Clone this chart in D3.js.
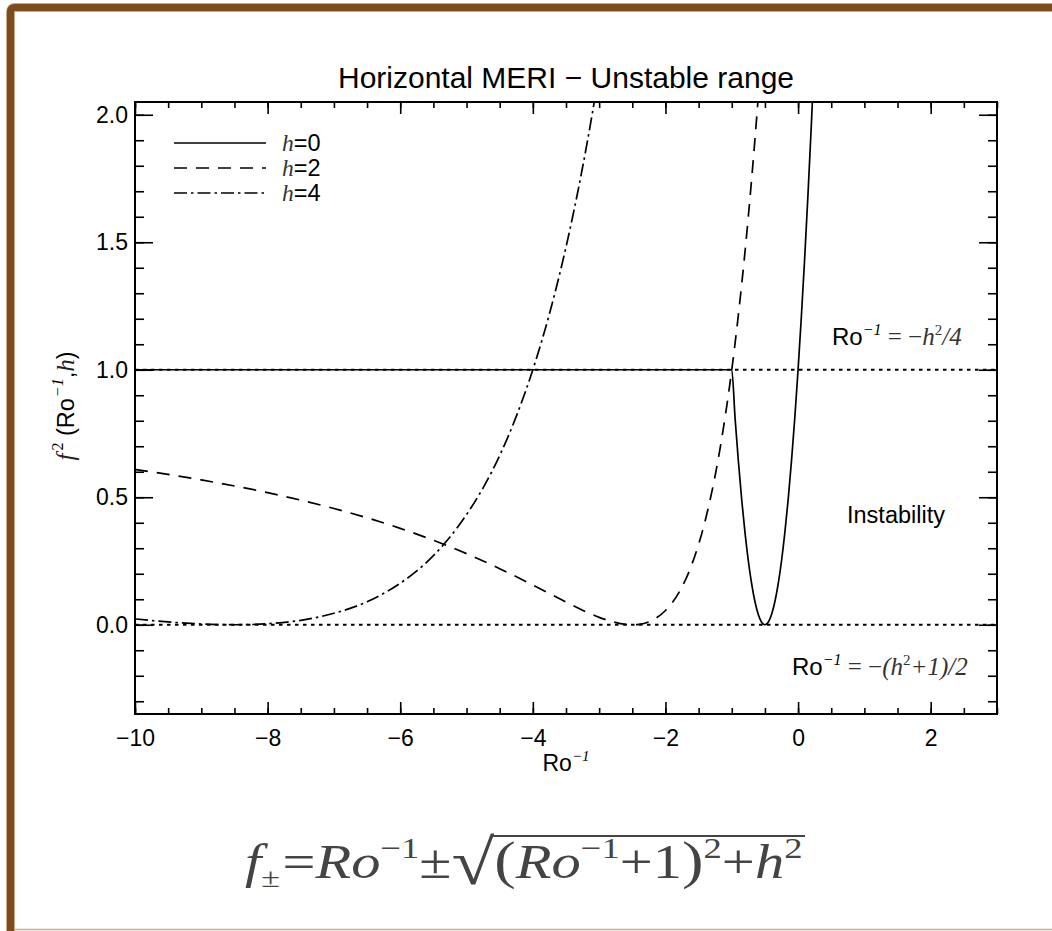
<!DOCTYPE html>
<html>
<head>
<meta charset="utf-8">
<script src="https://cdn.jsdelivr.net/npm/d3@7"></script>
<style>
  body { margin: 0; background: #fff; }
  svg { display: block; }
  .sans { font-family: "Liberation Sans", Arial, sans-serif; }
  .serif { font-family: "Liberation Serif", "Times New Roman", serif; }
</style>
</head>
<body>
<svg width="1052" height="931"></svg>
<script>
// f^2(Ro^-1, h) curves
var h0Ro = [-10, -5, -1, -0.95, -0.9, -0.85, -0.8, -0.75, -0.7, -0.65, -0.6, -0.55, -0.5,
  -0.45, -0.4, -0.35, -0.3, -0.25, -0.2, -0.15, -0.1, -0.05, 0, 0.05, 0.1, 0.15, 0.2, 0.25];
var h0F2 = [1, 1, 1, 0.81, 0.64, 0.49, 0.36, 0.25, 0.16, 0.09, 0.04, 0.01, 0,
  0.01, 0.04, 0.09, 0.16, 0.25, 0.36, 0.49, 0.64, 0.81, 1, 1.21, 1.44, 1.69, 1.96, 2.25];

var h2Ro = [-10, -9, -8, -7, -6, -5, -4.5, -4, -3.5, -3.25, -3, -2.8, -2.6, -2.5, -2.4, -2.2,
  -2, -1.8, -1.6, -1.4, -1.2, -1.1, -1, -0.9, -0.8, -0.7, -0.6, -0.5];
var h2F2 = [0.609, 0.568, 0.518, 0.456, 0.378, 0.279, 0.220, 0.156, 0.089, 0.057, 0.029, 0.012, 0.0015, 0, 0.0017, 0.0175,
  0.056, 0.125, 0.238, 0.409, 0.656, 0.815, 1, 1.216, 1.464, 1.749, 2.072, 2.439];

var h4Ro = [-10, -9.5, -9, -8.75, -8.5, -8.25, -8, -7.5, -7, -6.5, -6, -5.75, -5.5, -5.25, -5,
  -4.75, -4.5, -4.25, -4, -3.75, -3.5, -3.25, -3.1, -3];
var h4F2 = [0.023, 0.011, 0.003, 0.0008, 0, 0.0009, 0.004, 0.0175, 0.045, 0.090, 0.163, 0.211, 0.271, 0.344, 0.432,
  0.537, 0.664, 0.817, 1, 1.219, 1.481, 1.794, 2.01, 2.167];

var xMajor = [-10, -8, -6, -4, -2, 0, 2];
var yMajor = [0, 0.5, 1, 1.5, 2];
var refLines = [1, 0];

var series = [
  {name: '0', ro: h0Ro, f2: h0F2, dash: null},
  {name: '2', ro: h2Ro, f2: h2F2, dash: '13,9'},
  {name: '4', ro: h4Ro, f2: h4F2, dash: '13,4,2.5,4'}
];

var svg = d3.select('svg');

// brown frame
svg.append('path')
  .attr('d', 'M10.5,940 L10.5,12 Q10.5,7.5 15,7.5 L1060,7.5')
  .attr('fill', 'none')
  .attr('stroke', '#c9ab8c')
  .attr('stroke-width', 9);
svg.append('path')
  .attr('d', 'M10.5,940 L10.5,12 Q10.5,7.5 15,7.5 L1060,7.5')
  .attr('fill', 'none')
  .attr('stroke', '#7e4b1d')
  .attr('stroke-width', 7);
svg.append('line')
  .attr('x1', 14).attr('x2', 1052).attr('y1', 929.5).attr('y2', 929.5)
  .attr('stroke', '#c9ab8c').attr('stroke-width', 1.5);

var pL = 135, pR = 997, pT = 102, pB = 714;
var x = d3.scaleLinear().domain([-10, 3]).range([pL, pR]);
var y = d3.scaleLinear().domain([-0.35, 2.05]).range([pB, pT]);

svg.append('text')
  .attr('class', 'sans')
  .attr('x', (pL + pR) / 2)
  .attr('y', 88)
  .attr('text-anchor', 'middle')
  .style('font-size', '30px')
  .text('Horizontal MERI \u2212 Unstable range');

svg.append('defs').append('clipPath').attr('id', 'plotclip')
  .append('rect')
  .attr('x', pL).attr('y', pT)
  .attr('width', pR - pL).attr('height', pB - pT);

// ticks, IDL style (inward, on all four sides)
function styleAxis(g) {
  g.select('.domain').remove();
  g.selectAll('.tick line').attr('stroke', '#000').attr('stroke-width', 1.6);
  g.selectAll('.tick text')
    .attr('class', 'sans')
    .style('font-size', '23px')
    .attr('fill', '#000');
}

var xMinorVals = d3.range(-10, 3.001, 0.5);
var yMinorVals = d3.range(-0.3, 2.001, 0.1).map(function(v) { return Math.round(v * 10) / 10; });

svg.append('g').attr('transform', 'translate(0,' + pB + ')')
  .call(d3.axisBottom(x).tickValues(xMinorVals).tickSize(-6).tickFormat(''))
  .call(styleAxis);
svg.append('g').attr('transform', 'translate(0,' + pB + ')')
  .call(d3.axisBottom(x).tickValues(xMajor).tickSize(-12).tickPadding(16))
  .call(styleAxis);
svg.append('g').attr('transform', 'translate(0,' + pT + ')')
  .call(d3.axisTop(x).tickValues(xMinorVals).tickSize(-6).tickFormat(''))
  .call(styleAxis);
svg.append('g').attr('transform', 'translate(0,' + pT + ')')
  .call(d3.axisTop(x).tickValues(xMajor).tickSize(-12).tickFormat(''))
  .call(styleAxis);

svg.append('g').attr('transform', 'translate(' + pL + ',0)')
  .call(d3.axisLeft(y).tickValues(yMinorVals).tickSize(-9).tickFormat(''))
  .call(styleAxis);
svg.append('g').attr('transform', 'translate(' + pL + ',0)')
  .call(d3.axisLeft(y).tickValues(yMajor).tickSize(-18).tickPadding(7).tickFormat(d3.format('.1f')))
  .call(styleAxis);
svg.append('g').attr('transform', 'translate(' + pR + ',0)')
  .call(d3.axisRight(y).tickValues(yMinorVals).tickSize(-9).tickFormat(''))
  .call(styleAxis);
svg.append('g').attr('transform', 'translate(' + pR + ',0)')
  .call(d3.axisRight(y).tickValues(yMajor).tickSize(-18).tickFormat(''))
  .call(styleAxis);

// dotted reference lines
svg.selectAll('.ref')
  .data(refLines)
  .enter()
  .append('line')
  .attr('class', 'ref')
  .attr('x1', pL).attr('x2', pR)
  .attr('y1', function(d) { return y(d); })
  .attr('y2', function(d) { return y(d); })
  .attr('stroke', '#000')
  .attr('stroke-width', 2)
  .attr('stroke-dasharray', '3.5,4.5');

var line = d3.line()
  .x(function(d) { return x(d[0]); })
  .y(function(d) { return y(d[1]); })
  .curve(d3.curveMonotoneX);

svg.append('g').attr('clip-path', 'url(#plotclip)')
  .selectAll('path')
  .data(series)
  .enter()
  .append('path')
  .attr('d', function(d) {
    return line(d.ro.map(function(r, i) { return [r, d.f2[i]]; }));
  })
  .attr('fill', 'none')
  .attr('stroke', '#000')
  .attr('stroke-width', 1.7)
  .attr('stroke-dasharray', function(d) { return d.dash; });

// box
svg.append('rect')
  .attr('x', pL).attr('y', pT)
  .attr('width', pR - pL).attr('height', pB - pT)
  .attr('fill', 'none')
  .attr('stroke', '#000')
  .attr('stroke-width', 2);

// legend
var legend = svg.selectAll('.legend')
  .data(series)
  .enter()
  .append('g')
  .attr('class', 'legend')
  .attr('transform', function(d, i) {
    return 'translate(174,' + (143 + i * 25) + ')';
  });
legend.append('line')
  .attr('x1', 0).attr('x2', 92)
  .attr('stroke', '#000')
  .attr('stroke-width', 1.7)
  .attr('stroke-dasharray', function(d) { return d.dash; });
var legText = legend.append('text')
  .attr('x', 108)
  .attr('y', 8)
  .style('font-size', '23.5px');
legText.append('tspan').attr('class', 'serif').style('font-style', 'italic').attr('fill', '#333').text('h');
legText.append('tspan').attr('class', 'sans').text(function(d) { return '=' + d.name; });

// helper for mixed-font labels
function richText(sel, parts) {
  parts.forEach(function(p) {
    var t = sel.append('tspan')
      .attr('class', p.serif ? 'serif' : 'sans')
      .style('font-size', p.size + 'px')
      .text(p.t);
    if (p.it) t.style('font-style', 'italic');
    if (p.dy) t.attr('dy', p.dy);
    if (p.dx) t.attr('dx', p.dx);
    if (p.fill) t.attr('fill', p.fill);
  });
  return sel;
}

richText(svg.append('text').attr('x', (pL + pR) / 2).attr('y', 771).attr('text-anchor', 'middle'), [
  {t: 'Ro', size: 23},
  {t: '\u22121', size: 15, serif: true, it: true, dy: -10}
]);

richText(svg.append('text')
  .attr('text-anchor', 'middle')
  .attr('transform', 'translate(74,406) rotate(-90)'), [
  {t: 'f', size: 25, serif: true, it: true, fill: '#222'},
  {t: '2', size: 16, serif: true, dy: -11, dx: 3},
  {t: ' (Ro', size: 23.5, dy: 11},
  {t: '\u22121', size: 16, serif: true, it: true, dy: -11, dx: 1},
  {t: ',', size: 23.5, dy: 11},
  {t: 'h', size: 25, serif: true, it: true, fill: '#222'},
  {t: ')', size: 23.5}
]);

richText(svg.append('text').attr('x', 832).attr('y', 345), [
  {t: 'Ro', size: 24},
  {t: '\u22121', size: 16, serif: true, it: true, dy: -10},
  {t: ' = \u2212', size: 25, serif: true, dy: 10, fill: '#333'},
  {t: 'h', size: 25, serif: true, it: true, fill: '#333'},
  {t: '2', size: 15, serif: true, dy: -10, fill: '#333'},
  {t: '/4', size: 25, serif: true, it: true, dy: 10, fill: '#333'}
]);

richText(svg.append('text').attr('x', 792).attr('y', 675), [
  {t: 'Ro', size: 24},
  {t: '\u22121', size: 16, serif: true, it: true, dy: -10},
  {t: ' = \u2212', size: 25, serif: true, dy: 10, fill: '#333'},
  {t: '(h', size: 25, serif: true, it: true, fill: '#333'},
  {t: '2', size: 15, serif: true, dy: -10, fill: '#333'},
  {t: '+1)/2', size: 25, serif: true, it: true, dy: 10, fill: '#333'}
]);

svg.append('text')
  .attr('class', 'sans')
  .attr('x', 896).attr('y', 523)
  .attr('text-anchor', 'middle')
  .style('font-size', '23.5px')
  .text('Instability');

// formula under the chart, stretched to span 245..805
var eqG = svg.append('g');
var eq = eqG.append('text').attr('x', 0).attr('y', 0).attr('fill', '#444');
var eqParts = [
  {t: 'f', size: 48, serif: true, it: true},
  {t: '\u00b1', size: 28, serif: true, dy: 9},
  {t: '=', size: 48, serif: true, dy: -9, dx: 2},
  {t: 'Ro', size: 48, serif: true, it: true},
  {t: '\u22121', size: 30, serif: true, dy: -20},
  {t: '\u00b1', size: 48, serif: true, dy: 20},
  {t: '\u221a', size: 64, serif: true, dy: 6},
  {t: '(', size: 53, serif: true, dy: -6},
  {t: 'Ro', size: 48, serif: true, it: true},
  {t: '\u22121', size: 30, serif: true, dy: -20},
  {t: '+1', size: 48, serif: true, dy: 20},
  {t: ')', size: 53, serif: true},
  {t: '2', size: 30, serif: true, dy: -20},
  {t: '+', size: 48, serif: true, dy: 20},
  {t: 'h', size: 48, serif: true, it: true},
  {t: '2', size: 30, serif: true, dy: -20}
];
richText(eq, eqParts);

var eqNode = eq.node();
var eqBox = eqNode.getBBox();
var rootExt = eqNode.getExtentOfChar(8);
var barY = rootExt.y + 9;
eqG.append('line')
  .attr('x1', rootExt.x + rootExt.width - 3)
  .attr('x2', eqBox.x + eqBox.width + 2)
  .attr('y1', barY).attr('y2', barY)
  .attr('stroke', '#444')
  .attr('stroke-width', 2);
var sx = 560 / (eqBox.width + 2);
eqG.attr('transform', 'translate(' + (245 - eqBox.x * sx) + ',878) scale(' + sx + ',1)');
</script>
</body>
</html>
